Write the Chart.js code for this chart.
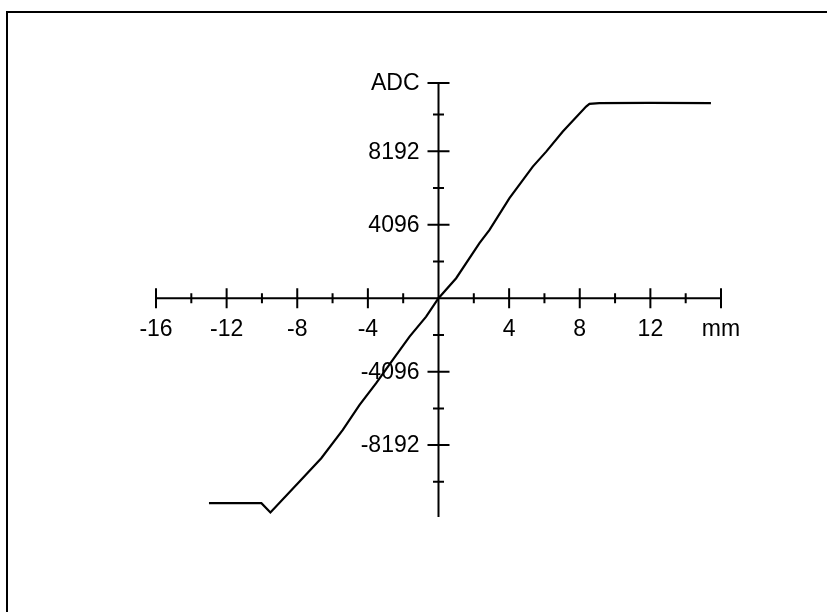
<!doctype html>
<html>
	<head>
		<meta charset="utf-8">
		<title>ADC / mm</title>
		<script src="https://cdn.jsdelivr.net/npm/chart.js@4/dist/chart.umd.min.js"></script>
		<style>
			body { margin: 0; background: #fff; }
			canvas { display: block; }
		</style>
	</head>
	<body>

	<canvas id="myChart" width="827" height="612"></canvas>
	<script>
		// Messkurve: Weg in mm gegen ADC-Wert
		const positionMm = [-13.0, -10.03, -9.52, -7.87, -6.64, -5.42, -4.47, -3.53, -2.59, -1.64, -0.70, 0,
			1.0, 2.32, 2.89, 4.02, 5.34, 6.10, 7.04, 8.36, 8.55, 9.11, 11.94, 15.43];
		const adcValues = [-11431, -11431, -11944, -10226, -8922, -7344, -5950, -4740, -3440, -2141, -1026, 0,
			1115, 3067, 3808, 5576, 7338, 8174, 9290, 10684, 10834, 10873, 10890, 10879];

		// Achsen
		const xMin = -16, xMax = 16;
		const yMin = -12200, yMax = 12000;
		const xMajorTicks = [-16, -12, -8, -4, 4, 8, 12, 16];
		const xMinorTicks = [-14, -10, -6, -2, 2, 6, 10, 14];
		const xTickLabels = ['-16', '-12', '-8', '-4', '4', '8', '12', 'mm'];
		const yMajorTicks = [-8192, -4096, 4096, 8192, 12000];
		const yMinorTicks = [-10240, -6144, -2048, 2048, 6144, 10240];
		const yTickLabels = ['-8192', '-4096', '4096', '8192', 'ADC'];

		const fontSpec = '23px "Liberation Sans", Arial, sans-serif';

		// zeichnet Rahmen, Achsenkreuz, Striche und Beschriftung
		const crossAxes = {
			id: 'crossAxes',
			beforeDatasetsDraw(chart) {
				const c = chart.ctx;
				const xs = chart.scales.x, ys = chart.scales.y;
				const x0 = xs.getPixelForValue(0), y0 = ys.getPixelForValue(0);
				c.save();
				c.strokeStyle = '#000';
				c.lineWidth = 2;

				// Rahmen oben und links
				c.beginPath();
				c.moveTo(7, chart.height);
				c.lineTo(7, 12);
				c.lineTo(chart.width, 12);
				c.stroke();

				c.beginPath();
				c.moveTo(xs.getPixelForValue(xMin), y0);
				c.lineTo(xs.getPixelForValue(xMax), y0);
				c.moveTo(x0, ys.getPixelForValue(yMax));
				c.lineTo(x0, ys.getPixelForValue(yMin));
				xMajorTicks.forEach(v => {
					const px = xs.getPixelForValue(v);
					c.moveTo(px, y0 - 10); c.lineTo(px, y0 + 10);
				});
				xMinorTicks.forEach(v => {
					const px = xs.getPixelForValue(v);
					c.moveTo(px, y0 - 5); c.lineTo(px, y0 + 5);
				});
				yMajorTicks.forEach(v => {
					const py = ys.getPixelForValue(v);
					c.moveTo(x0 - 11, py); c.lineTo(x0 + 11, py);
				});
				yMinorTicks.forEach(v => {
					const py = ys.getPixelForValue(v);
					c.moveTo(x0 - 5.5, py); c.lineTo(x0 + 5.5, py);
				});
				c.stroke();

				c.fillStyle = '#000';
				c.font = fontSpec;
				c.textAlign = 'center';
				c.textBaseline = 'middle';
				xMajorTicks.forEach((v, i) => {
					c.fillText(xTickLabels[i], xs.getPixelForValue(v), y0 + 31);
				});
				c.textAlign = 'right';
				yMajorTicks.forEach((v, i) => {
					c.fillText(yTickLabels[i], x0 - 19, ys.getPixelForValue(v) + 1);
				});
				c.restore();
			}
		};

		const ctx = document.getElementById('myChart').getContext('2d');
		const myChart = new Chart(ctx, {
			type: 'line',
			data: {
				datasets: [{
					data: positionMm.map((x, i) => ({ x: x, y: adcValues[i] })),
					borderColor: '#000',
					borderWidth: 2.2,
					pointRadius: 0,
					tension: 0,
					fill: false
				}]
			},
			options: {
				responsive: false,
				devicePixelRatio: 1,
				animation: false,
				events: [],
				layout: {
					padding: { left: 156, right: 106, top: 83, bottom: 95 }
				},
				scales: {
					x: { type: 'linear', min: xMin, max: xMax, display: false },
					y: { type: 'linear', min: yMin, max: yMax, display: false }
				},
				plugins: {
					legend: { display: false },
					tooltip: { enabled: false },
					title: { display: false }
				}
			},
			plugins: [crossAxes]
		});
	</script>
	</body>
</html>
